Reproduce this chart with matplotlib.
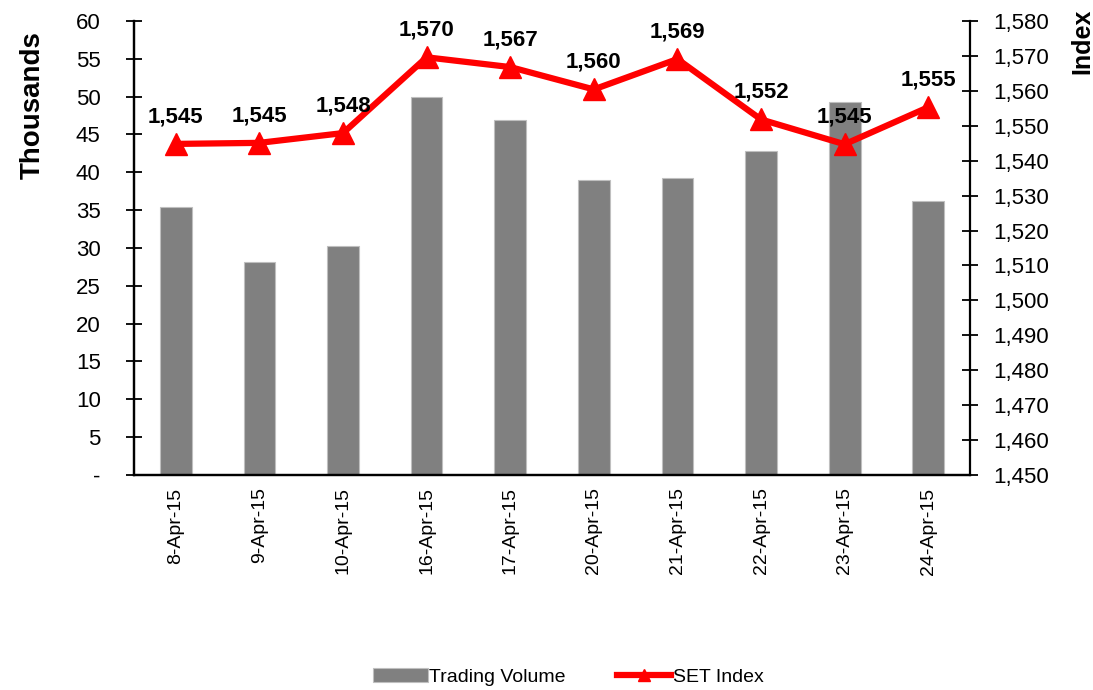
import matplotlib.pyplot as plt
from matplotlib.ticker import FuncFormatter, MultipleLocator

plt.rcParams['font.family'] = ['Liberation Sans', 'DejaVu Sans']

# Данные
dates = ['8-Apr-15', '9-Apr-15', '10-Apr-15', '16-Apr-15', '17-Apr-15',
         '20-Apr-15', '21-Apr-15', '22-Apr-15', '23-Apr-15', '24-Apr-15']
volume = [35.4, 28.2, 30.3, 50.0, 46.9, 39.0, 39.3, 42.8, 49.3, 36.2]
set_index = [1544.8, 1545.1, 1547.9, 1569.6, 1566.8, 1560.4, 1569.1, 1551.8, 1544.7, 1555.3]
index_labels = ['1,545', '1,545', '1,548', '1,570', '1,567',
                '1,560', '1,569', '1,552', '1,545', '1,555']

fig = plt.figure(figsize=(10.93, 6.9), dpi=100)
ax = fig.add_axes([0.1226, 0.3116, 0.7649, 0.658])
x = range(len(dates))

bars = ax.bar(x, volume, width=0.38, color='#808080', edgecolor='#bfbfbf',
              linewidth=0.8, label='Trading Volume', zorder=2)
ax.set_xlim(-0.5, len(dates) - 0.5)
ax.set_ylim(0, 60)
ax.yaxis.set_major_locator(MultipleLocator(5))
ax.yaxis.set_major_formatter(FuncFormatter(lambda v, p: '-' if v == 0 else f'{v:.0f}'))
ax.set_xticks(list(x))
ax.set_xticklabels(dates, rotation=90, fontsize=14)
ax.tick_params(axis='x', length=0, pad=9)
ax.tick_params(axis='y', direction='inout', length=12, width=1.3, labelsize=16, pad=18)

fig.text(0.03, 0.848, 'Thousands', rotation=90, ha='center', va='center',
         fontsize=20, fontweight='bold')

# Вторая ось
ax2 = ax.twinx()
line, = ax2.plot(x, set_index, color='#ff0000', linewidth=4.5, marker='^',
                 markersize=16, label='SET Index', zorder=3)
ax2.set_ylim(1450, 1580)
ax2.yaxis.set_major_locator(MultipleLocator(10))
ax2.yaxis.set_major_formatter(FuncFormatter(lambda v, p: f'{v:,.0f}'))
ax2.tick_params(axis='y', direction='inout', length=12, width=1.3, labelsize=16, pad=11)

for xi, yi, lab in zip(x, set_index, index_labels):
    ax2.annotate(lab, (xi, yi), xytext=(0, 12), textcoords='offset points',
                 ha='center', va='bottom', fontsize=16, fontweight='bold')

fig.text(0.99, 0.988, 'Index', rotation=90, ha='center', va='top',
         fontsize=18, fontweight='bold')

for a in (ax, ax2):
    a.spines['top'].set_visible(False)
    for s in ('left', 'right', 'bottom'):
        a.spines[s].set_linewidth(1.6)
ax.spines['right'].set_visible(False)

fig.legend([bars, line], ['Trading Volume', 'SET Index'], loc='center',
           bbox_to_anchor=(0.52, 0.019), ncol=2, frameon=False, fontsize=14,
           handlelength=2.8, columnspacing=2.6, handletextpad=0.1, markerscale=0.5)

fig.savefig('out.png', dpi=100)
